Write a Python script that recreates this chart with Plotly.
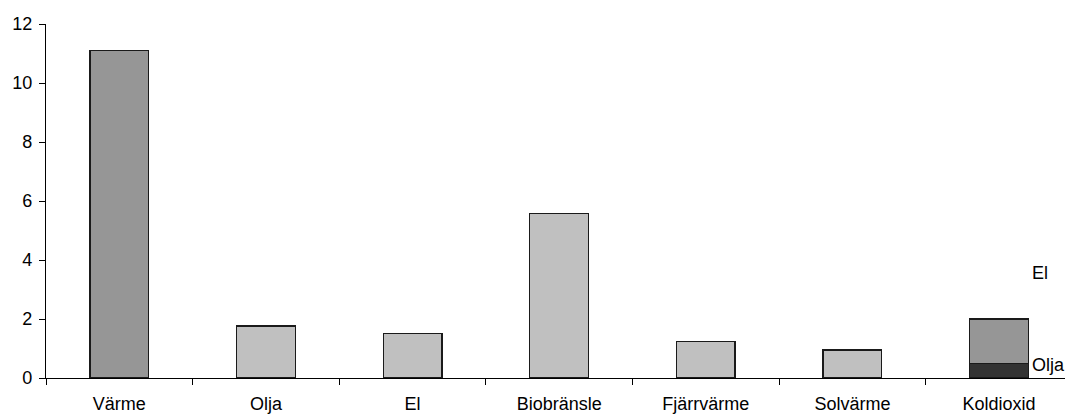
import plotly.graph_objects as go

# Categories and values
categories = ["Värme", "Olja", "El", "Biobränsle", "Fjärrvärme", "Solvärme", "Koldioxid"]
main_values = [11.1, 1.76, 1.51, 5.57, 1.24, 0.95, None]
co2_olja = [None, None, None, None, None, None, 0.5]
co2_el = [None, None, None, None, None, None, 1.5]
y_ticks = [0, 2, 4, 6, 8, 10, 12]

main_colors = ["#969696"] + ["#C0C0C0"] * 6

font = dict(family="Liberation Sans, Arial, sans-serif", size=18, color="#000000")
edge = dict(color="#1a1a1a", width=1.3)

fig = go.Figure()
fig.add_trace(go.Bar(x=categories, y=main_values, marker=dict(color=main_colors, line=edge),
                     width=0.4, showlegend=False, hoverinfo="x+y"))
fig.add_trace(go.Bar(x=categories, y=co2_olja, name="Olja",
                     marker=dict(color="#333333", line=edge), width=0.4, showlegend=False))
fig.add_trace(go.Bar(x=categories, y=co2_el, name="El",
                     marker=dict(color="#969696", line=edge), width=0.4, showlegend=False))

# Series labels next to the stacked bar
fig.add_annotation(x=6.21, y=3.56, text="El", showarrow=False, xanchor="left",
                   yanchor="middle", font=font)
fig.add_annotation(x=6.21, y=0.44, text="Olja", showarrow=False, xanchor="left",
                   yanchor="middle", font=font)

fig.update_layout(
    barmode="stack",
    width=1065, height=414,
    margin=dict(l=46, r=0, t=24, b=36),
    paper_bgcolor="white", plot_bgcolor="white",
    font=font,
    xaxis=dict(type="category", range=[-0.5, 6.45], tickson="boundaries",
               ticks="outside", ticklen=6, tickcolor="#000000", tickwidth=1,
               showline=True, linecolor="#000000", linewidth=1.3,
               showgrid=False, zeroline=False, tickfont=font,
               ticklabelstandoff=9),
    yaxis=dict(range=[0, 12], tickvals=y_ticks, ticks="outside", ticklen=6,
               tickcolor="#000000", tickwidth=1, showline=True, linecolor="#000000",
               linewidth=1.3, showgrid=False, zeroline=False, tickfont=font,
               ticklabelstandoff=3),
)

fig.write_html("out.html")
